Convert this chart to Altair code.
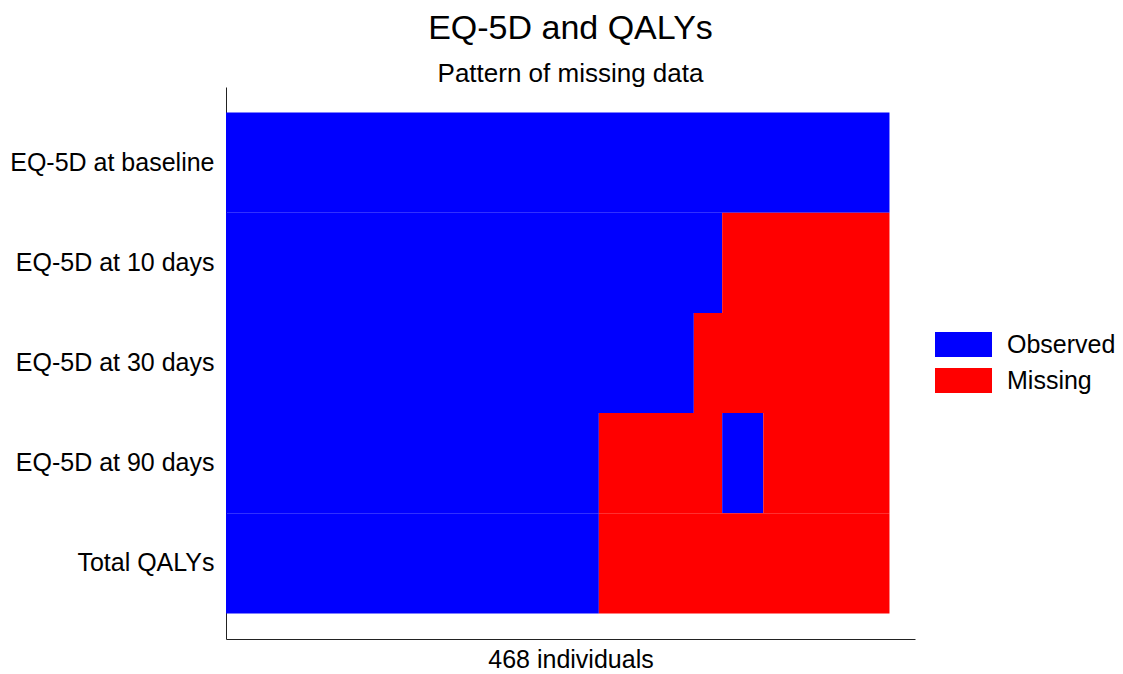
import altair as alt
import pandas as pd

rows = ["EQ-5D at baseline", "EQ-5D at 10 days", "EQ-5D at 30 days",
        "EQ-5D at 90 days", "Total QALYs"]
# segment boundaries (individual index) and status per row
row_bounds = [
    [0, 468],
    [0, 350, 468],
    [0, 330, 468],
    [0, 263, 350, 379, 468],
    [0, 263, 468],
]
row_status = [
    ["Observed"],
    ["Observed", "Missing"],
    ["Observed", "Missing"],
    ["Observed", "Missing", "Observed", "Missing"],
    ["Observed", "Missing"],
]
statuses = ["Observed", "Missing"]
colors = ["#0000ff", "#ff0000"]
n_individuals = 468

recs = []
for r, b, s in zip(rows, row_bounds, row_status):
    for i, st in enumerate(s):
        recs.append({"row": r, "start": b[i], "end": b[i + 1], "status": st})
df = pd.DataFrame(recs)

FONT = "Liberation Sans"

chart = alt.Chart(df).mark_bar(strokeWidth=0).encode(
    x=alt.X("start:Q",
            scale=alt.Scale(domain=[0, 486], nice=False, zero=True),
            axis=alt.Axis(title=f"{n_individuals} individuals", labels=False, ticks=False,
                          grid=False, domainColor="#222222", domainWidth=1,
                          titleFont=FONT, titleFontSize=25, titleFontWeight="normal",
                          titleColor="black", titlePadding=8)),
    x2="end:Q",
    y=alt.Y("row:N", sort=rows,
            scale=alt.Scale(paddingInner=0, paddingOuter=0.255),
            axis=alt.Axis(title=None, ticks=False, grid=False, domainColor="#222222",
                          domainWidth=1, labelFont=FONT, labelFontSize=25,
                          labelColor="black", labelPadding=12, labelLimit=400)),
    color=alt.Color("status:N",
                    scale=alt.Scale(domain=statuses, range=colors),
                    legend=alt.Legend(title=None, orient="none", legendX=725, legendY=245,
                                      symbolType="M-2.28,-1H2.28V1H-2.28Z",
                                      symbolSize=625, symbolStrokeWidth=0,
                                      symbolOpacity=1,
                                      labelFont=FONT, labelFontSize=25, labelColor="black",
                                      labelOffset=31, rowPadding=10, padding=0)),
).properties(
    width=689,
    height=552,
    title=alt.TitleParams(text="EQ-5D and QALYs", subtitle="Pattern of missing data",
                          font=FONT, fontSize=34, fontWeight="normal", color="black",
                          subtitleFont=FONT, subtitleFontSize=26, subtitleColor="black",
                          anchor="middle", subtitlePadding=15, offset=0),
    autosize=alt.AutoSizeParams(type="none"),
    padding={"left": 218, "top": 79, "right": 200, "bottom": 40},
).configure_view(stroke=None)

chart.save("out.html", embed_options={"renderer": "svg", "actions": False})
